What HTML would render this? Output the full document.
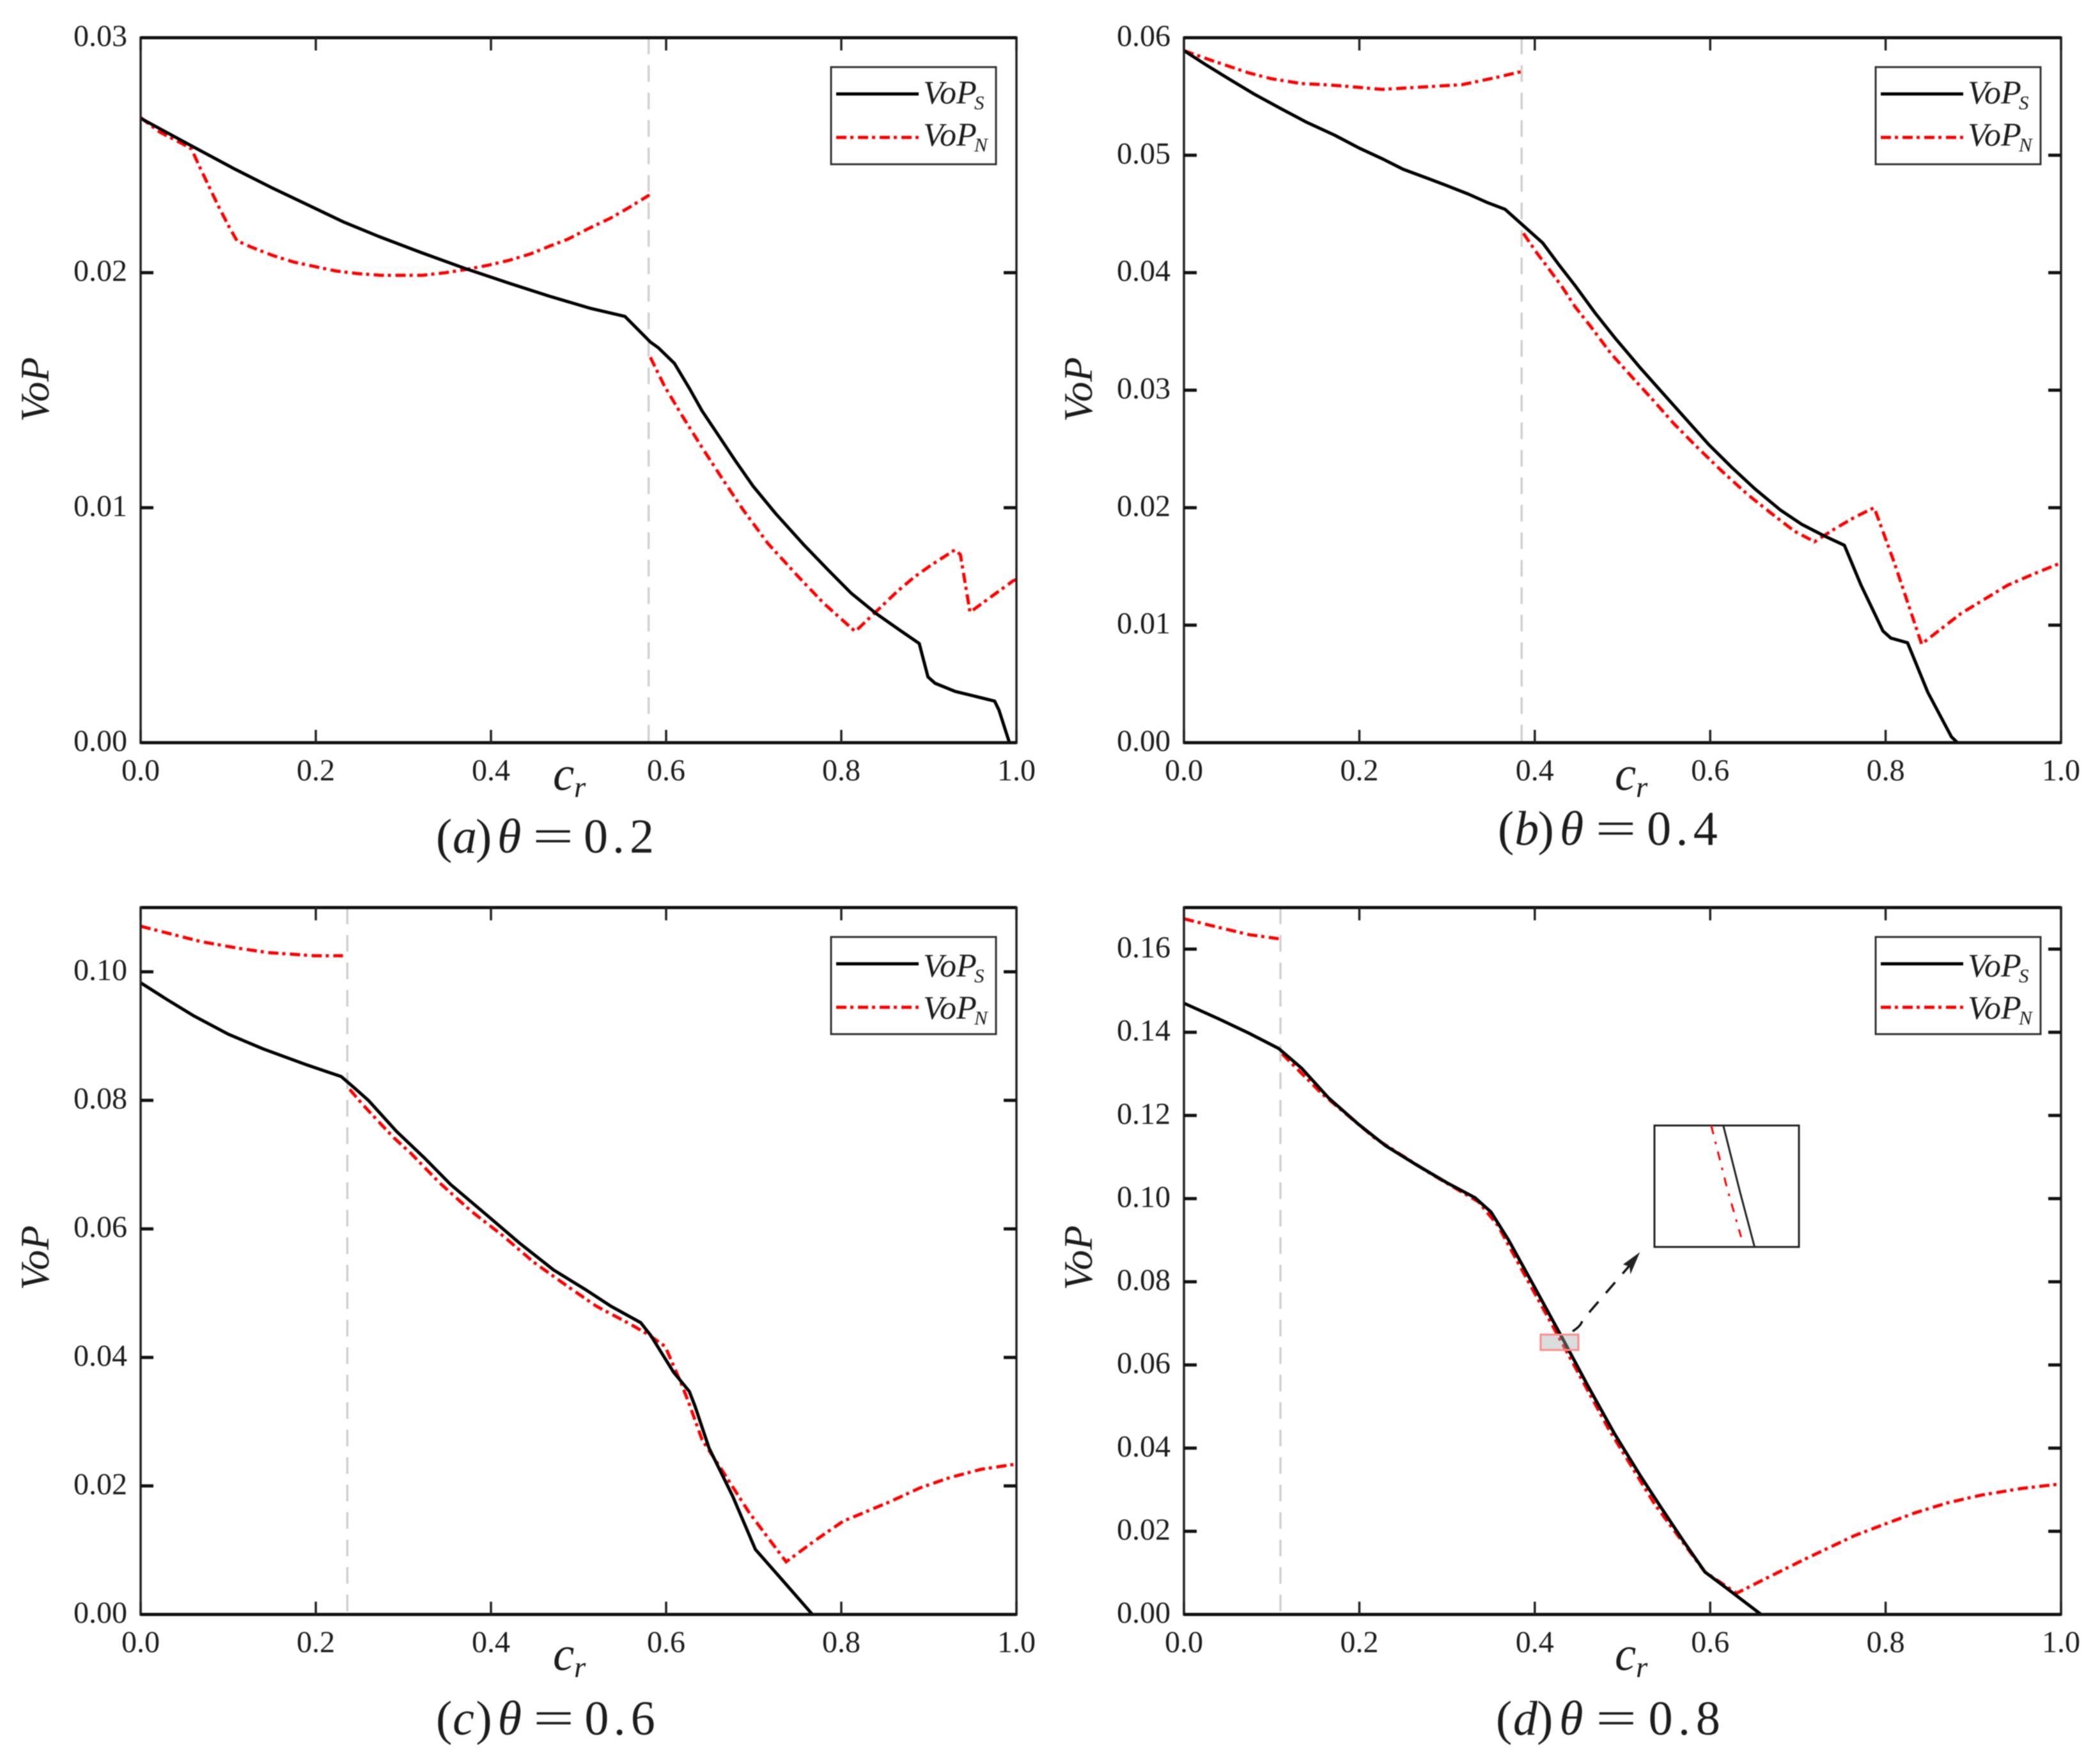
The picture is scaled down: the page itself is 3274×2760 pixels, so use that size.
<!DOCTYPE html>
<html><head><meta charset="utf-8"><title>VoP charts</title>
<style>
html,body{margin:0;padding:0;background:#fff;width:3274px;height:2760px;overflow:hidden}
svg{display:block;filter:blur(0.7px)}
text{font-family:"Liberation Serif",serif;fill:#1c1c1c}
</style></head>
<body>
<svg id="figure" xmlns="http://www.w3.org/2000/svg" width="3274" height="2760" viewBox="0 0 3274 2760"></svg>
<script>
const xTickLabels = ["0.0","0.2","0.4","0.6","0.8","1.0"];

const aYTicks = ["0.00","0.01","0.02","0.03"];
const aCrS = [0,.056,.108,.149,.19,.231,.272,.32,.372,.421,.466,.514,.553,.582,.591,.6095,.627,.641,.659,.679,.699,.725,.757,.786,.811,.84,.866,.889,.894,.899,.907,.93,.975,.98,.992];
const aVopS = [.02657,.02544,.0244,.02363,.0229,.02217,.02154,.02086,.02016,.01955,.01901,.01848,.01814,.01705,.01681,.01614,.01505,.01412,.01312,.012,.01093,.00975,.00843,.00731,.00637,.00549,.00481,.00422,.0035,.0028,.00253,.00218,.00177,.00139,0];
const aCrN = [0,.022,.048,.058,.067,.078,.089,.101,.11,.127,.151,.175,.199,.2235,.248,.274,.298,.322,.348,.372,.397,.421,.445,.467,.488,.512,.536,.557,.581,null,.582,.598,.618,.641,.664,.6875,.716,.751,.78,.816,.839,.864,.884,.904,.93,.936,.947,.973,.996,1];
const aVopN = [.0266,.02598,.02548,.02527,.02453,.02367,.02282,.02195,.02136,.02108,.02073,.02045,.02026,.02007,.01996,.01989,.01989,.01989,.02,.02014,.02032,.02053,.0208,.02113,.02143,.02189,.02231,.02276,.02331,null,.0164,.01518,.01393,.01256,.01124,.00993,.00849,.00706,.00593,.00473,.00555,.00644,.00707,.00759,.00821,.008,.00555,.00626,.00688,.00695];

const bYTicks = ["0.00","0.01","0.02","0.03","0.04","0.05","0.06"];
const bCrS = [0,.025,.051,.08,.112,.14,.172,.2,.226,.25,.279,.3,.324,.345,.366,.387,.409,.428,.446,.469,.491,.521,.547,.598,.625,.651,.68,.704,.73,.753,.772,.797,.806,.825,.848,.875,.882];
const bVopS = [.0589,.0577,.0565,.0552,.0539,.0528,.0517,.0506,.0497,.0488,.048,.0474,.0467,.046,.0454,.044,.04254,.04063,.0389,.03655,.03448,.03184,.02966,.0254,.0234,.0216,.0198,.0186,.0176,.0168,.0134,.0095,.0089,.0085,.0043,.0005,0];
const bCrN = [0,.03,.074,.1,.134,.16,.18,.226,.271,.317,.355,.384,null,.387,.402,.4165,.431,.446,.465,.487,.513,.5355,.558,.583,.612,.643,.67,.696,.719,.742,.765,.787,.81,.841,.886,.939,.97,1];
const bVopN = [.0589,.0581,.057,.0565,.0561,.056,.0559,.0556,.0558,.056,.0566,.0571,null,.04335,.04172,.04028,.03882,.0371,.0353,.0331,.03094,.0291,.0272,.0253,.0232,.0211,.0195,.018,.0171,.0182,.0192,.02,.0153,.0084,.011,.0134,.0144,.0153];

const cYTicks = ["0.00","0.02","0.04","0.06","0.08","0.10"];
const cCrS = [0,.03,.06,.1,.14,.19,.229,.2435,.26,.292,.325,.354,.3965,.4325,.4716,.5074,.5366,.571,.5825,.6085,.6265,.633,.649,.676,.702,.733,.767];
const cVopS = [.0983,.0957,.0932,.0903,.088,.0855,.0837,.082,.08,.0752,.0709,.0669,.062,.0578,.0536,.0506,.048,.0454,.0434,.0377,.0347,.0324,.0259,.0184,.0101,.0053,0];
const cCrN = [0,.04,.069,.11,.145,.198,.231,null,.2387,.2533,.273,.289,.309,.341,.377,.413,.449,.485,.52,.56,.579,.599,.6085,.618,.6265,.641,.664,.695,.737,.77,.802,.855,.89,.924,.96,1];
const cVopN = [.1071,.1057,.1047,.1037,.103,.1025,.1025,null,.0817,.0794,.0765,.0742,.0717,.0672,.0628,.059,.0548,.0513,.048,.0451,.0436,.0417,.0387,.0357,.0327,.0272,.0224,.0158,.0082,.0115,.0145,.0175,.0197,.0213,.0226,.0234];

const dYTicks = ["0.00","0.02","0.04","0.06","0.08","0.10","0.12","0.14","0.16"];
const dCrS = [0,.04,.074,.108,.134,.165,.199,.23,.263,.3,.332,.35,.37,.4,.43,.46,.491,.52,.544,.57,.594,.62,.658];
const dVopS = [.147,.1432,.1398,.1361,.1314,.1242,.1179,.1127,.1084,.1038,.1002,.0968,.0901,.0786,.067,.0552,.0434,.0335,.0257,.0175,.0102,.0061,0];
const dCrN = [0,.04,.074,.108,null,.112,.157,.218,.279,.336,.358,.393,.43,.484,.537,.594,.63,.665,.704,.735,.765,.8,.833,.87,.909,.955,1];
const dVopN = [.1673,.1652,.1635,.1625,null,.1348,.1253,.1145,.1063,.0992,.0935,.0799,.0657,.0447,.0264,.0102,.0051,.0088,.0129,.016,.019,.0218,.0244,.0268,.0287,.0303,.0314];

const insetCrS = [.4272,.4321,.4365];
const insetVopS = [.0673,.0653,.0636];
const insetCrN = [.4236,.4283,.4325];
const insetVopN = [.0673,.0654,.0639];

const svg = document.getElementById('figure');
const NS = 'http://www.w3.org/2000/svg';
function mk(tag, attrs, parent, txt){
  const el = document.createElementNS(NS, tag);
  for (const k in attrs) el.setAttribute(k, attrs[k]);
  if (txt !== undefined) el.textContent = txt;
  (parent || svg).appendChild(el);
  return el;
}
function pathFrom(xs, ys, sx, sy){
  let d = '', pen = false;
  xs.forEach((x, i) => {
    if (x === null) { pen = false; return; }
    d += (pen ? 'L' : 'M') + sx(x).toFixed(1) + ' ' + sy(ys[i]).toFixed(1);
    pen = true;
  });
  return d;
}
const RED_DASH = '16 6 5 7';

function drawPanel(id, box, yMax, yTicks, crS, vopS, crN, vopN, vline, capX, capBase, labelBase, labelX, letter, theta, capW){
  const L = box[0], R = box[1], T = box[2], B = box[3];
  const sx = v => L + (R - L) * v;
  const sy = v => B - (B - T) * v / yMax;
  const lower = T > 1000;
  const g = mk('g', {}, svg);
  
  

  const ref = mk('line', {x1:sx(vline), x2:sx(vline), y1:T, y2:B, stroke:'#d0d0d0', 'stroke-width':3.5, 'stroke-dasharray':'26 17'}, g);
  
  

  const lineN = mk('path', {d:pathFrom(crN, vopN, sx, sy), fill:'none', stroke:'#ff0000', 'stroke-width':5, 'stroke-dasharray':RED_DASH}, g);
  
  
  const lineS = mk('path', {d:pathFrom(crS, vopS, sx, sy), fill:'none', stroke:'#000', 'stroke-width':5, 'stroke-linejoin':'round'}, g);
  
  

  const frame = mk('path', {d:`M${L} ${T}H${R}M${L} ${B}H${R}`, stroke:'#111', 'stroke-width':5, fill:'none'}, g);
  
  
  const frameV = mk('path', {d:`M${L} ${T-2}V${B+2}M${R} ${T-2}V${B+2}`, stroke:'#222', 'stroke-width':3.5, fill:'none'}, g);
  
  

  xTickLabels.forEach(lbl => {
    const x = sx(Number(lbl));
    const t = mk('path', {d:`M${x} ${B}V${B-20}M${x} ${T}V${T+20}`, stroke:'#222', 'stroke-width':3.5}, g);
    
    
    const tl = mk('text', {x:x, y:B+59, 'font-size':48, 'text-anchor':'middle'}, g, lbl);
    
    
  });
  yTicks.forEach(lbl => {
    const y = sy(Number(lbl));
    const t = mk('path', {d:`M${L} ${y}H${L+20}M${R} ${y}H${R-20}`, stroke:'#111', 'stroke-width':5}, g);
    
    
    const tl = mk('text', {x:L-21, y:y+13, 'font-size':48, 'text-anchor':'end'}, g, lbl);
    
    
  });

  const xl = mk('text', {x:labelX, y:labelBase, 'font-size':75, 'font-style':'italic'}, g, 'c');
  
  
  const xs = mk('text', {x:labelX+33, y:labelBase+11, 'font-size':47, 'font-style':'italic'}, g, 'r');
  
  

  const yCenter = (T + B) / 2 + (lower ? -5 : -1);
  const yl = mk('text', {x:0, y:0, 'font-size':63, 'font-style':'italic', 'text-anchor':'middle', transform:`translate(${L-144},${yCenter}) rotate(-90)`}, g, 'VoP');
  
  

  const lx = R - 290, ly = T + 46;
  const tOff = lower ? 5 : 0;
  const lg = mk('g', {}, g);
  
  
  const lb = mk('rect', {x:lx, y:ly, width:258, height:152, fill:'#fff', stroke:'#333', 'stroke-width':3}, lg);
  
  
  const ls = mk('line', {x1:lx+8, x2:lx+137, y1:ly+42, y2:ly+42, stroke:'#000', 'stroke-width':5}, lg);
  
  
  const ln = mk('line', {x1:lx+8, x2:lx+137, y1:ly+110, y2:ly+110, stroke:'#ff0000', 'stroke-width':5, 'stroke-dasharray':RED_DASH}, lg);
  
  
  const l1 = mk('text', {x:lx+144, y:ly+57+tOff, 'font-size':52, 'font-style':'italic'}, lg, 'VoP');
  
  
  const l1s = mk('text', {x:lx+224, y:ly+66+tOff, 'font-size':31, 'font-style':'italic', fill:'#444'}, lg, 'S');
  
  
  const l2 = mk('text', {x:lx+144, y:ly+123+tOff, 'font-size':52, 'font-style':'italic'}, lg, 'VoP');
  
  
  const l2s = mk('text', {x:lx+224, y:ly+132+tOff, 'font-size':31, 'font-style':'italic', fill:'#444'}, lg, 'N');
  
  

  const cap = mk('g', {}, g);
  
  
  const k = capW / 336;
  const c1 = mk('text', {x:capX, y:capBase, 'font-size':76}, cap, '(');
  
  
  const c2 = mk('text', {x:capX+26*k, y:capBase, 'font-size':76, 'font-style':'italic'}, cap, letter);
  
  
  const c3 = mk('text', {x:capX+62*k, y:capBase, 'font-size':76}, cap, ')');
  
  
  const c4 = mk('text', {x:capX+96*k, y:capBase, 'font-size':76, 'font-style':'italic'}, cap, 'θ');
  
  
  const c5 = mk('text', {'font-size':76, transform:`translate(${capX+151*k},${capBase}) scale(1.5,1)`}, cap, '=');
  
  
  const c6 = mk('text', {x:capX+231*k, y:capBase, 'font-size':76}, cap, '0');
  
  
  const c7 = mk('text', {x:capX+276*k, y:capBase, 'font-size':76}, cap, '.');
  
  
  const c8 = mk('text', {x:capX+303*k, y:capBase, 'font-size':76}, cap, theta);
  
  
  return {sx, sy};
}

drawPanel('a', [220,1590,59,1162], .03, aYTicks, aCrS, aVopS, aCrN, aVopN, .58, 682, 1334, 1236, 865, 'a', '2', 336);
drawPanel('b', [1852,3224,59,1162], .06, bYTicks, bCrS, bVopS, bCrN, bVopN, .385, 2343, 1322, 1236, 2526, 'b', '4', 339);
drawPanel('c', [220,1590,1420,2526], .11, cYTicks, cCrS, cVopS, cCrN, cVopN, .236, 682, 2714, 2613, 865, 'c', '6', 338);
const pd = drawPanel('d', [1852,3224,1420,2526], .17, dYTicks, dCrS, dVopS, dCrN, dVopN, .11, 2340, 2714, 2613, 2526, 'd', '8', 347);

/* zoom inset in panel d */
const zoomRect = mk('rect', {x:pd.sx(.4067), y:pd.sy(.0673), width:pd.sx(.4497)-pd.sx(.4067), height:pd.sy(.0636)-pd.sy(.0673), fill:'#a8aeae', 'fill-opacity':.42, stroke:'#ff8c8c', 'stroke-width':3});



const ix = v => 2588 + 226 * (v - .4067) / (.4497 - .4067);
const iy = v => 1951 - 190 * (v - .0636) / (.0673 - .0636);
const insetBox = mk('rect', {x:2588, y:1761, width:226, height:190, fill:'#fff', stroke:'#222', 'stroke-width':3});


const insetN = mk('path', {d:pathFrom(insetCrN, insetVopN, ix, iy), fill:'none', stroke:'#ff0000', 'stroke-width':3, 'stroke-dasharray':'14 12 4 12'});


const insetS = mk('path', {d:pathFrom(insetCrS, insetVopS, ix, iy), fill:'none', stroke:'#222', 'stroke-width':3});



const arrow = mk('path', {d:'M2460 2083Q2474 2074 2475 2066L2563 1964', fill:'none', stroke:'#111', 'stroke-width':3.5, 'stroke-dasharray':'22 18'});


const arrowHead = mk('path', {d:'M2563 1962L2541 1978L2550 1981L2551 1990Z', fill:'#222', stroke:'#222', 'stroke-width':2});


</script>
</body></html>
